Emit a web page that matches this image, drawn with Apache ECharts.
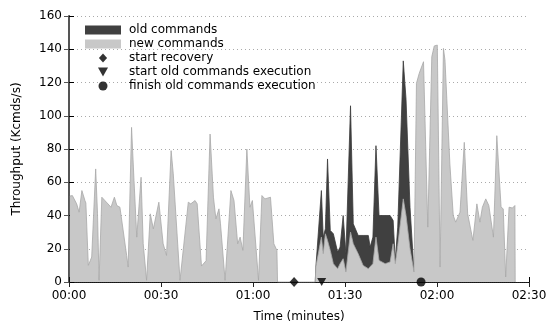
<!DOCTYPE html>
<html>
<head>
<meta charset="utf-8">
<script src="https://cdn.jsdelivr.net/npm/echarts@6/dist/echarts.min.js"></script>
<style>
  html, body { margin: 0; padding: 0; background: #fff; }
  #chart { width: 547px; height: 322px; }
</style>
</head>
<body>
<div id="chart"></div>
<script>
// time in minutes, throughput in Kcmds/s

// normal run before the crash
var steadyTimes = [0.3, 1.1, 2.5, 3.3, 4.2, 5.2, 5.5, 6.3, 7.4, 8.7, 9.3, 9.8, 10.7, 11.7, 13.7, 14.8, 15.6, 16.6,
  18.8, 19.3, 20.4, 21.2, 22.1, 23.5, 24.2, 25.3, 26.5, 27.5, 29.3, 30.7, 31.8, 33.3, 34.0, 36.2, 38.9, 39.7,
  41.1, 41.8, 43.2, 44.7, 46.0, 47.1, 47.9, 48.9, 49.4, 50.9, 52.8, 53.8, 55.0, 55.8, 56.7, 58.0, 59.0, 59.8,
  61.8, 62.9, 63.9, 65.7, 66.8, 67.8, 68.0];
var steadyNew = [51.7, 52, 47, 42, 55, 49, 47.5, 10, 15, 68, 41, 1, 51, 49, 45, 51, 46, 45,
  16, 9, 93, 61, 27, 63, 23, 1, 41, 32, 48, 23, 16, 79, 65, 1, 48, 47,
  49, 47, 9.6, 12.8, 89, 51, 38, 44, 35, 1, 55, 49, 23, 27, 19, 80, 45, 49,
  1, 52, 50, 51, 23, 19, 0];

// recovery: old commands replayed next to new ones
var recoveryTimes = [80.3, 80.5, 82.3, 82.9, 83.6, 84.3, 85.2, 86.2, 87.6, 88.4, 89.4, 90.3, 91.8, 92.7, 94.3,
  95.9, 97.6, 98.2, 99.1, 100.1, 101.1, 103.1, 104.7, 105.7, 106.4, 107.2, 109.0, 109.9, 111.2, 112.5];
var recoveryNew = [0, 9, 27, 17, 29, 25, 19, 11, 8, 11, 14, 6, 30, 23, 17,
  10, 8, 9, 11, 27, 13, 11, 12, 23, 11, 22, 50, 40, 20, 6];
var recoveryOld = [0, 0, 28, 10, 3, 49, 12, 18, 10, 10, 26, 11, 76, 12, 11,
  18, 20, 12, 16, 55, 27, 29, 28, 14, 2, 11, 83, 70, 25, 0];

// after old commands finished
var afterTimes = [113.3, 114.2, 115.6, 115.9, 117.0, 118.3, 119.1, 120.1, 121.0, 122.1, 122.6, 124.2, 125.3,
  126.1, 127.5, 128.9, 130.0, 131.7, 132.2, 133.0, 134.0, 134.8, 135.9, 136.9, 138.4, 139.5, 140.9, 141.6,
  142.4, 143.5, 144.6, 145.4, 145.5];
var afterNew = [119.5, 125.5, 132.5, 131.5, 33, 135.5, 142, 142.5, 9, 140.5, 133.5, 71, 40,
  36, 42, 84, 41, 25, 24, 47, 36, 45, 50, 46, 27, 88, 45, 44,
  3, 45, 44.5, 46, 0];

var startRecovery = 73.4;
var startOldExec = 82.4;
var finishOldExec = 114.8;

var FONT = 'DejaVu Sans';
var DIAMOND = 'path://M5,0L10,5.5L5,11L0,5.5Z';
var TRIANGLE_DOWN = 'path://M0,0L10,0L5,9Z';

function pad(n) { return (n < 10 ? '0' : '') + n; }

var newPoints = [];
steadyTimes.forEach(function(t, i) { newPoints.push([t, steadyNew[i]]); });
recoveryTimes.forEach(function(t, i) { newPoints.push([t, recoveryNew[i]]); });
afterTimes.forEach(function(t, i) { newPoints.push([t, afterNew[i]]); });

// old commands stacked on top of the new ones
var totalPoints = recoveryTimes.map(function(t, i) {
  return [t, recoveryNew[i] + recoveryOld[i]];
});

var chart = echarts.init(document.getElementById('chart'));

var textStyle = { fontFamily: FONT, fontSize: 12, color: '#000' };

chart.setOption({
  animation: false,
  textStyle: textStyle,
  grid: { left: 69, right: 18, top: 16, bottom: 40, outerBoundsMode: 'none' },
  legend: {
    left: 80,
    top: 19,
    orient: 'vertical',
    itemWidth: 36,
    itemHeight: 9,
    itemGap: 2,
    textStyle: { fontFamily: FONT, fontSize: 12, color: '#000', padding: [0, 0, 0, 3] },
    itemStyle: { borderWidth: 0 },
    data: [
      { name: 'old commands', icon: 'rect' },
      { name: 'new commands', icon: 'rect' },
      { name: 'start recovery', icon: DIAMOND },
      { name: 'start old commands execution', icon: TRIANGLE_DOWN },
      { name: 'finish old commands execution', icon: 'circle' }
    ]
  },
  xAxis: [{
    type: 'value',
    min: 0,
    max: 150,
    interval: 30,
    name: 'Time (minutes)',
    nameLocation: 'middle',
    nameGap: 29,
    nameTextStyle: textStyle,
    axisLine: { lineStyle: { color: '#000', width: 1 } },
    axisTick: { inside: true, length: 5, lineStyle: { color: '#000' } },
    axisLabel: { margin: 8, fontFamily: FONT, fontSize: 12, color: '#000',
      formatter: function(v) { return pad(Math.floor(v / 60)) + ':' + pad(v % 60); } },
    splitLine: { show: false }
  }, {
    type: 'value',
    position: 'top',
    min: 0,
    max: 150,
    interval: 30,
    axisLine: { lineStyle: { color: '#222', width: 1, type: [1, 1] } },
    axisTick: { inside: true, length: 5, lineStyle: { color: '#222' } },
    axisLabel: { show: false },
    splitLine: { show: false }
  }],
  yAxis: [{
    type: 'value',
    min: 0,
    max: 160,
    interval: 20,
    name: 'Throughput (Kcmds/s)',
    nameLocation: 'middle',
    nameGap: 46,
    nameTextStyle: textStyle,
    axisLine: { show: true, lineStyle: { color: '#000', width: 1 } },
    axisTick: { show: true, inside: true, length: 5, lineStyle: { color: '#000' } },
    axisLabel: { margin: 7, fontFamily: FONT, fontSize: 12, color: '#000' },
    splitLine: { show: true, lineStyle: { color: '#aaa', width: 1, type: [1, 3] } }
  }, {
    type: 'value',
    position: 'right',
    min: 0,
    max: 160,
    interval: 20,
    axisLine: { show: true, lineStyle: { color: '#555', width: 2 } },
    axisTick: { show: true, inside: true, length: 5, lineStyle: { color: '#555' } },
    axisLabel: { show: false },
    splitLine: { show: false }
  }],
  series: [{
    name: 'old commands',
    type: 'line',
    data: totalPoints,
    symbol: 'none',
    color: '#404040',
    lineStyle: { color: '#3a3a3a', width: 0.8 },
    areaStyle: { color: '#404040', opacity: 1 },
    z: 2
  }, {
    name: 'new commands',
    type: 'line',
    data: newPoints,
    symbol: 'none',
    color: '#c8c8c8',
    lineStyle: { color: '#a8a8a8', width: 0.8 },
    areaStyle: { color: '#c8c8c8', opacity: 1 },
    z: 3
  }, {
    name: 'start recovery',
    type: 'scatter',
    data: [[startRecovery, 0]],
    symbol: DIAMOND,
    symbolSize: [9, 10],
    color: '#000',
    clip: false,
    z: 5
  }, {
    name: 'start old commands execution',
    type: 'scatter',
    data: [[startOldExec, 0]],
    symbol: TRIANGLE_DOWN,
    symbolSize: [9, 8],
    color: '#000',
    clip: false,
    z: 5
  }, {
    name: 'finish old commands execution',
    type: 'scatter',
    data: [[finishOldExec, 0]],
    symbol: 'circle',
    symbolSize: 9,
    color: '#000',
    clip: false,
    z: 5
  }]
});
</script>
</body>
</html>
